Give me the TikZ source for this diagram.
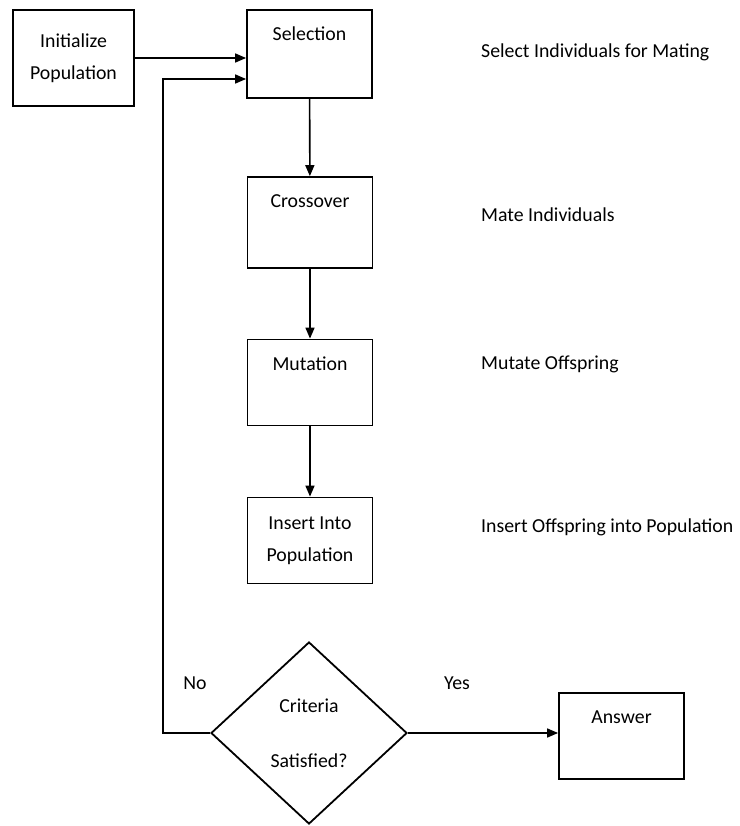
\documentclass[tikz,border=0pt]{standalone}
\usepackage{fontspec}
\setmainfont{Carlito}
\usetikzlibrary{shapes.geometric, arrows.meta}

\begin{document}
\begin{tikzpicture}[x=1pt, y=-1pt, font=\fontsize{19.8}{32}\selectfont]
\tikzstyle{process}=[rectangle, draw=black, line width=1.8pt, minimum width=125pt, minimum height=86pt, inner sep=0pt];
\tikzstyle{decision}=[diamond, draw=black, line width=1.8pt, minimum width=196pt, minimum height=182pt, inner sep=0pt, align=center];
\tikzstyle{note}=[anchor=west, inner sep=0pt];
\tikzstyle{arrow}=[-{Triangle[length=11pt, width=9pt]}, line width=1.6pt];

\useasboundingbox (0,0) rectangle (739,826);

\node [process, minimum width=121pt, minimum height=96pt, align=center] at (73.5,58) (Initialize) {Initialize\\Population};
\node [process, minimum height=88pt, label={[anchor=center, yshift=-25pt]north:Selection}] at (309.5,54) (Selection) {};
\node [process, minimum height=91pt, label={[anchor=center, yshift=-25pt]north:Crossover}] at (310,222.5) (Crossover) {};
\node [process, label={[anchor=center, yshift=-25pt]north:Mutation}] at (310,382.5) (Mutation) {};
\node [process, align=center] at (310,540.5) (Insert) {Insert Into\\Population};
\node [decision] at (309,733) (Criteria) {Criteria\\[23pt]Satisfied?};
\node [process, label={[anchor=center, yshift=-25pt]north:Answer}] at (621.5,736) (Answer) {};

\node [note] at (481,52) (SelectNote) {Select Individuals for Mating};
\node [note] at (481,215) (MateNote) {Mate Individuals};
\node [note] at (481,364) (MutateNote) {Mutate Offspring};
\node [note] at (481,527) (InsertNote) {Insert Offspring into Population};
\node at (195,683) (No) {No};
\node at (457,683) (Yes) {Yes};

\coordinate (Back) at (163,79);

\draw[arrow] (Initialize.east) -- (Initialize.east -| Selection.west);
\draw[arrow] (Criteria.west) -| (Back) -- (Back -| Selection.west);
\draw[arrow] (Selection) -- (Crossover);
\draw[arrow] (Crossover) -- (Mutation);
\draw[arrow] (Mutation) -- (Insert);
\draw[arrow] (Criteria.east) -- (Criteria.east -| Answer.west);

\end{tikzpicture}
\end{document}
